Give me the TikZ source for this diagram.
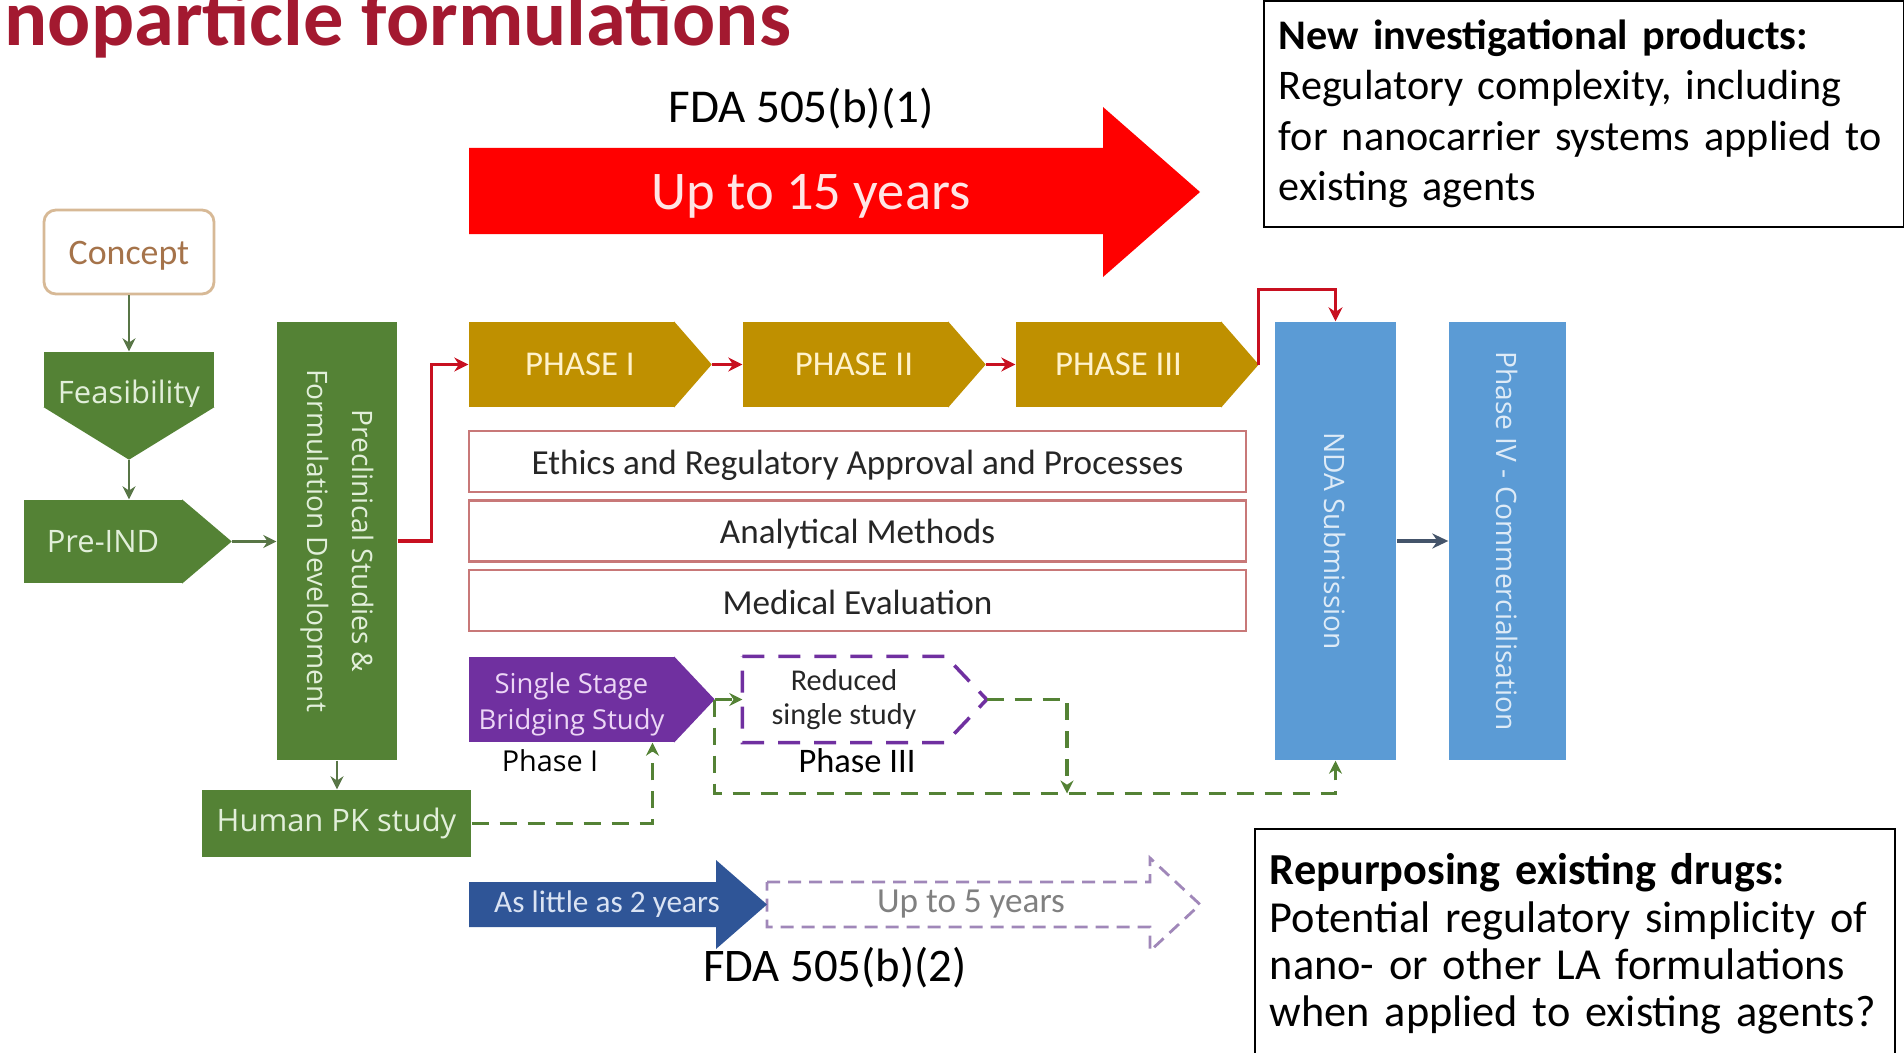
\documentclass[tikz,border=0pt]{standalone}
\usepackage{fontspec}
\setmainfont{Carlito}
\newfontfamily\segoe{Open Sans}
\usepackage{tikz}
\usetikzlibrary{arrows.meta,calc}
\definecolor{titlered}{RGB}{163,25,48}
\definecolor{ggreen}{RGB}{84,130,53}
\definecolor{glinkc}{RGB}{88,118,70}
\definecolor{gtext}{RGB}{226,239,218}
\definecolor{gold}{RGB}{191,144,0}
\definecolor{goldtext}{RGB}{255,242,204}
\definecolor{nblue}{RGB}{91,155,213}
\definecolor{nbluetext}{RGB}{222,235,247}
\definecolor{purp}{RGB}{112,48,160}
\definecolor{purptext}{RGB}{236,214,245}
\definecolor{dblue}{RGB}{47,85,151}
\definecolor{dbluetext}{RGB}{218,227,243}
\definecolor{bigred}{RGB}{255,0,0}
\definecolor{linkred}{RGB}{200,16,32}
\definecolor{pinkline}{RGB}{200,120,120}
\definecolor{conceptline}{RGB}{215,185,150}
\definecolor{concepttext}{RGB}{165,115,74}
\definecolor{lilac}{RGB}{160,135,185}
\definecolor{slate}{RGB}{68,84,106}
\newcommand\fsz[2]{\fontsize{#1}{#2}\selectfont}

\begin{document}
\begin{tikzpicture}[>=Stealth,x=0.1mm,y=-0.1mm,inner sep=0pt,
  greenbox/.style={rectangle,fill=ggreen,text=gtext,font=\segoe\fsz{8.8}{10.5}},
  phasebox/.style={rectangle,fill=gold,text=goldtext,font=\fsz{9.9}{12},minimum width=20.5mm,minimum height=8.5mm},
  bluebox/.style={rectangle,fill=nblue,minimum height=43.8mm},
  stepbox/.style={rectangle,draw=pinkline,line width=0.6pt,minimum width=77.7mm,minimum height=6.1mm,font=\fsz{10}{12},text=black!85},
  note/.style={rectangle,draw=black,line width=0.5pt,align=left,anchor=north west,text width=61mm,inner xsep=1.5mm},
  vlabel/.style={rotate=-90,align=center,inner sep=0pt,font=\segoe\fsz{8}{12.7}},
  glink/.style={->,draw=glinkc,line width=0.6pt,>={Stealth[length=1.3mm,width=1.3mm]}},
  rlink/.style={->,draw=linkred,line width=0.9pt,>={Stealth[length=1.4mm,width=1.4mm]}},
  dlink/.style={->,draw=slate,line width=0.9pt,>={Stealth[length=1.6mm,width=1.5mm]}},
  gdash/.style={->,draw=ggreen,line width=1pt,dash pattern=on 1.7mm off 1.1mm,>={Stealth[length=1.3mm,width=1.3mm]}}]
\useasboundingbox (0,0) rectangle (1904,1053);
\clip (0,0) rectangle (1904,1053);

\node[anchor=base west,text=titlered,font=\bfseries\fsz{22.9}{27}] (title) at (4,46) {noparticle formulations};

\node[font=\fsz{13.4}{16}] (fda1) at (801,109) {FDA 505(b)(1)};
\fill[bigred] (469,148) -- (1103,148) -- (1103,107) -- (1200,192) -- (1103,277) -- (1103,234) -- (469,234) -- cycle;
\node[text=white!90!red,font=\fsz{15.5}{18}] (up15) at (811,196) {Up to 15 years};

\node[note,minimum height=22.6mm,font=\fsz{12}{14.3}] (newprod) at (1263,0) {\textbf{New investigational products:}\\Regulatory complexity, including\\for nanocarrier systems applied to\\existing agents};

\node[rectangle,rounded corners=1.2mm,draw=conceptline,line width=0.8pt,fill=white,text=concepttext,font=\fsz{10.2}{12},minimum width=17mm,minimum height=8.4mm] (concept) at (129,252) {\raisebox{-1.2pt}[\height][\depth]{Concept}};
\node[greenbox,minimum width=17mm,minimum height=5.5mm] (feas) at (129,379.5) {\raisebox{-4.5pt}[\height][\depth]{Feasibility}};
\fill[ggreen] ([yshift=0.2pt]feas.south west) -- ($(feas.south)+(0,52)$) coordinate (feast) -- ([yshift=0.2pt]feas.south east) -- cycle;
\node[greenbox,minimum width=15.8mm,minimum height=8.3mm] (preind) at (103,541.5) {Pre-IND};
\fill[ggreen] ([xshift=-0.2pt]preind.north east) -- ($(preind.east)+(49,0)$) coordinate (preindt) -- ([xshift=-0.2pt]preind.south east) -- cycle;
\node[greenbox,minimum width=12mm,minimum height=43.8mm,label={[vlabel,text=gtext]center:{Preclinical Studies \&\\Formulation Development}}] (precl) at (337,541) {};
\node[greenbox,minimum width=26.9mm,minimum height=6.7mm] (pk) at (336.5,823.5) {Human PK study};

\node[phasebox] (p1) at (571.5,364.5) {\hspace{4.8pt}PHASE I};
\fill[gold] ([xshift=-0.2pt]p1.north east) -- ($(p1.east)+(37,0)$) coordinate (p1t) -- ([xshift=-0.2pt]p1.south east) -- cycle;
\node[phasebox] (p2) at (845.5,364.5) {\hspace{4.8pt}PHASE II};
\fill[gold] ([xshift=-0.2pt]p2.north east) -- ($(p2.east)+(37,0)$) coordinate (p2t) -- ([xshift=-0.2pt]p2.south east) -- cycle;
\node[phasebox] (p3) at (1118.5,364.5) {PHASE III};
\fill[gold] ([xshift=-0.2pt]p3.north east) -- ($(p3.east)+(37,0)$) coordinate (p3t) -- ([xshift=-0.2pt]p3.south east) -- cycle;

\node[stepbox] (eth) at (857.5,461.5) {\raisebox{-1pt}[\height][\depth]{Ethics and Regulatory Approval and Processes}};
\node[stepbox] (ana) at (857.5,531) {\raisebox{-1pt}[\height][\depth]{Analytical Methods}};
\node[stepbox] (med) at (857.5,600.5) {\raisebox{-0.5pt}[\height][\depth]{Medical Evaluation}};

\node[bluebox,minimum width=12.1mm,label={[vlabel,text=nbluetext]center:NDA Submission}] (nda) at (1335.5,541) {};
\node[bluebox,minimum width=11.7mm,label={[vlabel,text=nbluetext]center:Phase IV - Commercialisation}] (p4) at (1507.5,541) {};

\node[rectangle,fill=purp,text=purptext,font=\segoe\fsz{7.8}{10},align=center,minimum width=20.5mm,minimum height=8.5mm] (ssb) at (571.5,699.5) {\raisebox{-1.4pt}[\height][\depth]{\begin{tabular}{@{}c@{}}Single Stage\\Bridging Study\end{tabular}}};
\fill[purp] ([xshift=-0.2pt]ssb.north east) -- ($(ssb.east)+(40,0)$) coordinate (ssbt) -- ([xshift=-0.2pt]ssb.south east) -- cycle;
\node[rectangle,text=black!85,font=\fsz{8.6}{9.8},align=center,minimum width=20.2mm,minimum height=8.5mm] (red) at (844,699.5) {Reduced\\single study};
\draw[purp,line width=1pt,dash pattern=on 2.2mm off 1.4mm] (red.north west) -- (red.north east) -- ($(red.east)+(41,0)$) coordinate (redt) -- (red.south east) -- (red.south west) -- cycle;
\node[font=\segoe\fsz{8.2}{10}] (ph1) at (550,761) {Phase I};
\node[font=\fsz{9.8}{12}] (ph3) at (857,761) {Phase III};

\draw[lilac,line width=0.8pt,dash pattern=on 1.3mm off 0.8mm] (767,882) -- (1150,882) -- (1150,858) -- (1200,904.5) -- (1150,951) -- (1150,927) -- (767,927) -- cycle;
\node[text=black!50,font=\fsz{10}{12}] (up5) at (971,904) {Up to 5 years};
\fill[dblue] (469,882) -- (716,882) -- (716,860) -- (767,904.5) -- (716,949) -- (716,927) -- (469,927) -- cycle;
\node[text=dbluetext,font=\fsz{8.9}{11}] (two) at (607,904) {As little as 2 years};
\node[font=\fsz{13.3}{16}] (fda2) at (835,968) {FDA 505(b)(2)};

\node[note,inner ysep=7pt,font=\fsz{12.6}{13.5}] (repurp) at (1254,828) {\textbf{Repurposing existing drugs:}\\Potential regulatory simplicity of\\nano- or other LA formulations\\when applied to existing agents?};

\draw[glink] (concept) -- (feas);
\draw[glink] (feast) -- (feast |- preind.north);
\draw[glink] (preindt) -- (preindt -| precl.west);
\draw[glink] (precl.south) -- (precl.south |- pk.north);
\draw[rlink] (precl.east) -- ++(34,0) |- (p1);
\draw[rlink] (p1t) -- (p2);
\draw[rlink] (p2t) -- (p3);
\draw[rlink] (p3t) -- ++(0,-75) -| (nda);
\draw[dlink] (nda) -- (p4);
\draw[gdash] (pk.east) -| ([xshift=8.1mm]ssb.south);
\draw[gdash] (ssbt) -- (ssbt -| red.west);
\coordinate (merge) at (1067,793.5);
\draw[gdash] (ssbt) |- (merge) -| (nda.south);
\draw[gdash] (redt) -| (merge);
\end{tikzpicture}
\end{document}
